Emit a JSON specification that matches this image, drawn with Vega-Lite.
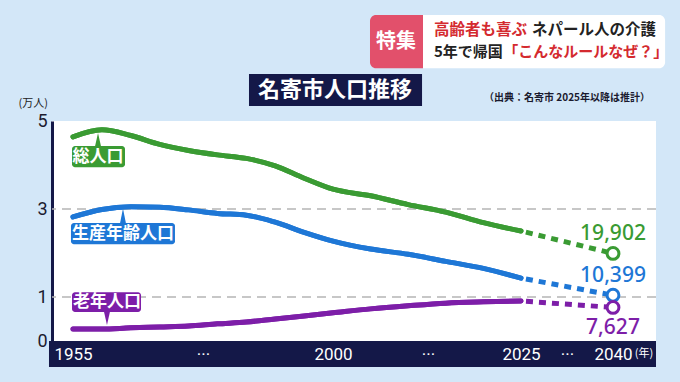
{
  "$schema": "https://vega.github.io/schema/vega-lite/v6.json",
  "width": 604,
  "height": 220,
  "autosize": {"type": "none"},
  "padding": {"left": 52, "top": 121, "right": 24, "bottom": 41},
  "background": "#d3e7f8",
  "config": {
    "view": {"fill": "white", "stroke": null},
    "font": "Noto Sans CJK JP"
  },
  "data": {
    "values": [
      {"series": "総人口", "kind": "a", "year": 1955, "value": 4.64},
      {"series": "総人口", "kind": "a", "year": 1960, "value": 4.80},
      {"series": "総人口", "kind": "a", "year": 1965, "value": 4.67},
      {"series": "総人口", "kind": "a", "year": 1970, "value": 4.47},
      {"series": "総人口", "kind": "a", "year": 1975, "value": 4.33},
      {"series": "総人口", "kind": "a", "year": 1980, "value": 4.23},
      {"series": "総人口", "kind": "a", "year": 1985, "value": 4.15},
      {"series": "総人口", "kind": "a", "year": 1990, "value": 3.98},
      {"series": "総人口", "kind": "a", "year": 1995, "value": 3.70},
      {"series": "総人口", "kind": "a", "year": 2000, "value": 3.45},
      {"series": "総人口", "kind": "a", "year": 2005, "value": 3.30},
      {"series": "総人口", "kind": "a", "year": 2010, "value": 3.10},
      {"series": "総人口", "kind": "a", "year": 2015, "value": 2.93},
      {"series": "総人口", "kind": "a", "year": 2020, "value": 2.69},
      {"series": "総人口", "kind": "a", "year": 2025, "value": 2.50},
      {"series": "生産年齢人口", "kind": "a", "year": 1955, "value": 2.82},
      {"series": "生産年齢人口", "kind": "a", "year": 1960, "value": 2.99},
      {"series": "生産年齢人口", "kind": "a", "year": 1965, "value": 3.05},
      {"series": "生産年齢人口", "kind": "a", "year": 1970, "value": 3.04},
      {"series": "生産年齢人口", "kind": "a", "year": 1975, "value": 2.98},
      {"series": "生産年齢人口", "kind": "a", "year": 1980, "value": 2.90},
      {"series": "生産年齢人口", "kind": "a", "year": 1985, "value": 2.86},
      {"series": "生産年齢人口", "kind": "a", "year": 1990, "value": 2.70},
      {"series": "生産年齢人口", "kind": "a", "year": 1995, "value": 2.47},
      {"series": "生産年齢人口", "kind": "a", "year": 2000, "value": 2.27},
      {"series": "生産年齢人口", "kind": "a", "year": 2005, "value": 2.09},
      {"series": "生産年齢人口", "kind": "a", "year": 2010, "value": 1.97},
      {"series": "生産年齢人口", "kind": "a", "year": 2015, "value": 1.81},
      {"series": "生産年齢人口", "kind": "a", "year": 2020, "value": 1.65},
      {"series": "生産年齢人口", "kind": "a", "year": 2025, "value": 1.43},
      {"series": "老年人口", "kind": "a", "year": 1955, "value": 0.27},
      {"series": "老年人口", "kind": "a", "year": 1960, "value": 0.27},
      {"series": "老年人口", "kind": "a", "year": 1965, "value": 0.30},
      {"series": "老年人口", "kind": "a", "year": 1970, "value": 0.32},
      {"series": "老年人口", "kind": "a", "year": 1975, "value": 0.34},
      {"series": "老年人口", "kind": "a", "year": 1980, "value": 0.39},
      {"series": "老年人口", "kind": "a", "year": 1985, "value": 0.43},
      {"series": "老年人口", "kind": "a", "year": 1990, "value": 0.50},
      {"series": "老年人口", "kind": "a", "year": 1995, "value": 0.57},
      {"series": "老年人口", "kind": "a", "year": 2000, "value": 0.64},
      {"series": "老年人口", "kind": "a", "year": 2005, "value": 0.73},
      {"series": "老年人口", "kind": "a", "year": 2010, "value": 0.80},
      {"series": "老年人口", "kind": "a", "year": 2015, "value": 0.86},
      {"series": "老年人口", "kind": "a", "year": 2020, "value": 0.89},
      {"series": "老年人口", "kind": "a", "year": 2025, "value": 0.91},
      {"series": "総人口", "kind": "p", "year": 2025, "value": 2.50},
      {"series": "総人口", "kind": "p", "year": 2040, "value": 1.9902, "people": 19902},
      {"series": "生産年齢人口", "kind": "p", "year": 2025, "value": 1.43},
      {"series": "生産年齢人口", "kind": "p", "year": 2040, "value": 1.0399, "people": 10399},
      {"series": "老年人口", "kind": "p", "year": 2025, "value": 0.91},
      {"series": "老年人口", "kind": "p", "year": 2040, "value": 0.7627, "people": 7627}
    ]
  },
  "layer": [
    {
      "transform": [{"filter": "datum.kind == 'a'"}],
      "mark": {"type": "line", "strokeWidth": 5, "interpolate": "monotone", "strokeCap": "round"},
      "encoding": {
        "x": {
          "field": "year", "type": "quantitative",
          "scale": {"domain": [1951.37, 1955, 2000, 2025, 2040, 2047.0], "range": [0, 21, 281, 469, 561, 604], "nice": false, "zero": false},
          "axis": {
            "values": [1955, 1977.5, 2000, 2012.63, 2025, 2032.5, 2040],
            "labelExpr": "(datum.value == 1955 || datum.value == 2000 || datum.value == 2025 || datum.value == 2040) ? ('' + datum.value) : '···'",
            "title": null, "grid": false, "ticks": false, "tickSize": 0, "domain": false,
            "offset": 13, "zindex": 2,
            "labelColor": "white", "labelFontSize": 17, "labelFont": "Roboto",
            "labelBaseline": "middle", "labelPadding": 0, "labelFlush": false, "labelOverlap": false
          }
        },
        "y": {
          "field": "value", "type": "quantitative",
          "scale": {"domain": [0, 5], "nice": false, "zero": true},
          "axis": {
            "values": [0, 1, 3, 5],
            "title": "(万人)", "titleAngle": 0, "titleX": -34, "titleY": -18,
            "titleAlign": "left", "titleBaseline": "middle", "titleFontSize": 11,
            "titleFontWeight": "normal", "titleColor": "#222222",
            "grid": false, "ticks": false, "tickSize": 0,
            "domainColor": "#141848", "domainWidth": 3,
            "labelFontSize": 18, "labelColor": "#1b1b2f", "labelPadding": 5,
            "labelFont": "Roboto", "labelFlush": false
          }
        },
        "color": {
          "field": "series", "type": "nominal",
          "scale": {"domain": ["総人口", "生産年齢人口", "老年人口"], "range": ["#3a9b33", "#1e77d6", "#7d1ea8"]},
          "legend": null
        }
      }
    },
    {
      "data": {"values": [{"g": 1}, {"g": 3}]},
      "mark": {"type": "rule", "color": "#b5b5b5", "strokeWidth": 1.5, "strokeDash": [9, 6]},
      "encoding": {
        "y": {"field": "g", "type": "quantitative"}
      }
    },
    {
      "data": {"values": [{}]},
      "mark": {"type": "rect", "color": "#141848"},
      "encoding": {
        "x": {"datum": 1950.85, "type": "quantitative"}, "x2": {"datum": 2047.0},
        "y": {"datum": 0, "type": "quantitative"}, "y2": {"datum": -0.59}
      }
    },
    {
      "transform": [{"filter": "datum.kind == 'a'"}],
      "mark": {"type": "line", "strokeWidth": 5, "interpolate": "monotone", "strokeCap": "round"},
      "encoding": {
        "x": {"field": "year", "type": "quantitative"},
        "y": {"field": "value", "type": "quantitative"},
        "color": {"field": "series", "type": "nominal", "legend": null}
      }
    },
    {
      "transform": [{"filter": "datum.kind == 'p'"}],
      "mark": {"type": "line", "strokeWidth": 5, "strokeDash": [7, 6], "strokeDashOffset": 8},
      "encoding": {
        "x": {"field": "year", "type": "quantitative"},
        "y": {"field": "value", "type": "quantitative"},
        "color": {"field": "series", "type": "nominal", "legend": null}
      }
    },
    {
      "transform": [{"filter": "datum.year == 2040"}],
      "mark": {"type": "point", "shape": "circle", "size": 140, "filled": true, "fill": "white", "strokeWidth": 3, "opacity": 1},
      "encoding": {
        "x": {"field": "year", "type": "quantitative"},
        "y": {"field": "value", "type": "quantitative"},
        "stroke": {
          "field": "series", "type": "nominal",
          "scale": {"domain": ["総人口", "生産年齢人口", "老年人口"], "range": ["#3a9b33", "#1e77d6", "#7d1ea8"]},
          "legend": null
        }
      }
    },
    {
      "transform": [{"filter": "datum.year == 2040 && datum.series != '老年人口'"}],
      "mark": {"type": "text", "fontSize": 21, "font": "Noto Sans", "fontWeight": 500, "dy": -19, "align": "center", "baseline": "middle"},
      "encoding": {
        "x": {"field": "year", "type": "quantitative"},
        "y": {"field": "value", "type": "quantitative"},
        "text": {"field": "people", "type": "quantitative", "format": ","},
        "color": {"field": "series", "type": "nominal", "legend": null}
      }
    },
    {
      "transform": [{"filter": "datum.year == 2040 && datum.series == '老年人口'"}],
      "mark": {"type": "text", "fontSize": 21, "font": "Noto Sans", "fontWeight": 500, "dy": 21, "align": "center", "baseline": "middle"},
      "encoding": {
        "x": {"field": "year", "type": "quantitative"},
        "y": {"field": "value", "type": "quantitative"},
        "text": {"field": "people", "type": "quantitative", "format": ","},
        "color": {"field": "series", "type": "nominal", "legend": null}
      }
    },
    {
      "data": {"values": [{}]},
      "mark": {"type": "rect", "color": "#3a9b33", "cornerRadius": 3},
      "encoding": {
        "x": {"datum": 1954.83, "type": "quantitative"}, "x2": {"datum": 1964.0},
        "y": {"datum": 3.95, "type": "quantitative"}, "y2": {"datum": 4.43}
      }
    },
    {
      "data": {"values": [{}]},
      "mark": {"type": "point", "shape": "M-0.45,1L0,-1L0.45,1Z", "filled": true, "color": "#3a9b33", "size": 196, "opacity": 1},
      "encoding": {
        "x": {"datum": 1959.33, "type": "quantitative"},
        "y": {"datum": 4.57, "type": "quantitative"}
      }
    },
    {
      "data": {"values": [{}]},
      "mark": {"type": "text", "text": "総人口", "color": "white", "fontSize": 17, "fontWeight": "bold", "align": "center", "baseline": "middle"},
      "encoding": {
        "x": {"datum": 1959.33, "type": "quantitative"},
        "y": {"datum": 4.18, "type": "quantitative"}
      }
    },
    {
      "data": {"values": [{}]},
      "mark": {"type": "rect", "color": "#1e77d6", "cornerRadius": 3},
      "encoding": {
        "x": {"datum": 1954.65, "type": "quantitative"}, "x2": {"datum": 1972.65},
        "y": {"datum": 2.20, "type": "quantitative"}, "y2": {"datum": 2.68}
      }
    },
    {
      "data": {"values": [{}]},
      "mark": {"type": "point", "shape": "M-0.4,1L0,-1L0.4,1Z", "filled": true, "color": "#1e77d6", "size": 225, "opacity": 1},
      "encoding": {
        "x": {"datum": 1963.65, "type": "quantitative"},
        "y": {"datum": 2.84, "type": "quantitative"}
      }
    },
    {
      "data": {"values": [{}]},
      "mark": {"type": "text", "text": "生産年齢人口", "color": "white", "fontSize": 17, "fontWeight": "bold", "align": "center", "baseline": "middle"},
      "encoding": {
        "x": {"datum": 1963.65, "type": "quantitative"},
        "y": {"datum": 2.44, "type": "quantitative"}
      }
    },
    {
      "data": {"values": [{}]},
      "mark": {"type": "rect", "color": "#7d1ea8", "cornerRadius": 3},
      "encoding": {
        "x": {"datum": 1954.83, "type": "quantitative"}, "x2": {"datum": 1966.77},
        "y": {"datum": 0.66, "type": "quantitative"}, "y2": {"datum": 1.11}
      }
    },
    {
      "data": {"values": [{}]},
      "mark": {"type": "point", "shape": "M-0.45,-1L0,1L0.45,-1Z", "filled": true, "color": "#7d1ea8", "size": 169, "opacity": 1},
      "encoding": {
        "x": {"datum": 1960.88, "type": "quantitative"},
        "y": {"datum": 0.51, "type": "quantitative"}
      }
    },
    {
      "data": {"values": [{}]},
      "mark": {"type": "text", "text": "老年人口", "color": "white", "fontSize": 17, "fontWeight": "bold", "align": "center", "baseline": "middle"},
      "encoding": {
        "x": {"datum": 1960.88, "type": "quantitative"},
        "y": {"datum": 0.89, "type": "quantitative"}
      }
    },
    {
      "data": {"values": [{}]},
      "mark": {"type": "text", "text": "(年)", "color": "white", "fontSize": 11, "align": "center", "baseline": "middle"},
      "encoding": {
        "x": {"datum": 2045.05, "type": "quantitative"},
        "y": {"datum": -0.3, "type": "quantitative"}
      }
    },
    {
      "data": {"values": [{}]},
      "mark": {"type": "rect", "color": "#141848"},
      "encoding": {
        "x": {"datum": 1985.46, "type": "quantitative"}, "x2": {"datum": 2011.84},
        "y": {"datum": 5.34, "type": "quantitative"}, "y2": {"datum": 6.07}
      }
    },
    {
      "data": {"values": [{}]},
      "mark": {"type": "text", "text": "名寄市人口推移", "color": "white", "fontSize": 22, "fontWeight": "bold", "align": "center", "baseline": "middle"},
      "encoding": {
        "x": {"datum": 2000.27, "type": "quantitative"},
        "y": {"datum": 5.70, "type": "quantitative"}
      }
    },
    {
      "data": {"values": [{}]},
      "mark": {"type": "text", "text": "（出典：名寄市 2025年以降は推計）", "color": "#1a1a2e", "fontSize": 10, "fontWeight": "bold", "align": "center", "baseline": "middle"},
      "encoding": {
        "x": {"datum": 2032.5, "type": "quantitative"},
        "y": {"datum": 5.52, "type": "quantitative"}
      }
    },
    {
      "data": {"values": [{}]},
      "mark": {"type": "rect", "color": "#e2506b", "cornerRadiusTopLeft": 6, "cornerRadiusBottomLeft": 6},
      "encoding": {
        "x": {"datum": 2004.92, "type": "quantitative"}, "x2": {"datum": 2011.97},
        "y": {"datum": 6.20, "type": "quantitative"}, "y2": {"datum": 7.41}
      }
    },
    {
      "data": {"values": [{}]},
      "mark": {"type": "rect", "color": "white", "cornerRadiusTopRight": 6, "cornerRadiusBottomRight": 6},
      "encoding": {
        "x": {"datum": 2011.97, "type": "quantitative"}, "x2": {"datum": 2048.48},
        "y": {"datum": 6.20, "type": "quantitative"}, "y2": {"datum": 7.41}
      }
    },
    {
      "data": {"values": [{}]},
      "mark": {"type": "text", "text": "特集", "color": "white", "fontSize": 20, "fontWeight": "bold", "align": "center", "baseline": "middle"},
      "encoding": {
        "x": {"datum": 2008.38, "type": "quantitative"},
        "y": {"datum": 6.80, "type": "quantitative"}
      }
    },
    {
      "data": {"values": [{}]},
      "mark": {"type": "text", "text": "高齢者も喜ぶ", "color": "#d42a2f", "fontSize": 15.5, "fontWeight": "bold", "align": "left", "baseline": "middle"},
      "encoding": {
        "x": {"datum": 2013.43, "type": "quantitative"},
        "y": {"datum": 7.07, "type": "quantitative"}
      }
    },
    {
      "data": {"values": [{}]},
      "mark": {"type": "text", "text": "ネパール人の介護", "color": "#222222", "fontSize": 15.5, "fontWeight": "bold", "align": "left", "baseline": "middle"},
      "encoding": {
        "x": {"datum": 2026.79, "type": "quantitative"},
        "y": {"datum": 7.07, "type": "quantitative"}
      }
    },
    {
      "data": {"values": [{}]},
      "mark": {"type": "text", "text": "5年で帰国", "color": "#222222", "fontSize": 15, "fontWeight": "bold", "align": "left", "baseline": "middle"},
      "encoding": {
        "x": {"datum": 2013.43, "type": "quantitative"},
        "y": {"datum": 6.57, "type": "quantitative"}
      }
    },
    {
      "data": {"values": [{}]},
      "mark": {"type": "text", "text": "「こんなルールなぜ？」", "color": "#d42a2f", "fontSize": 15, "fontWeight": "bold", "align": "left", "baseline": "middle"},
      "encoding": {
        "x": {"datum": 2022.65, "type": "quantitative"},
        "y": {"datum": 6.57, "type": "quantitative"}
      }
    }
  ]
}
